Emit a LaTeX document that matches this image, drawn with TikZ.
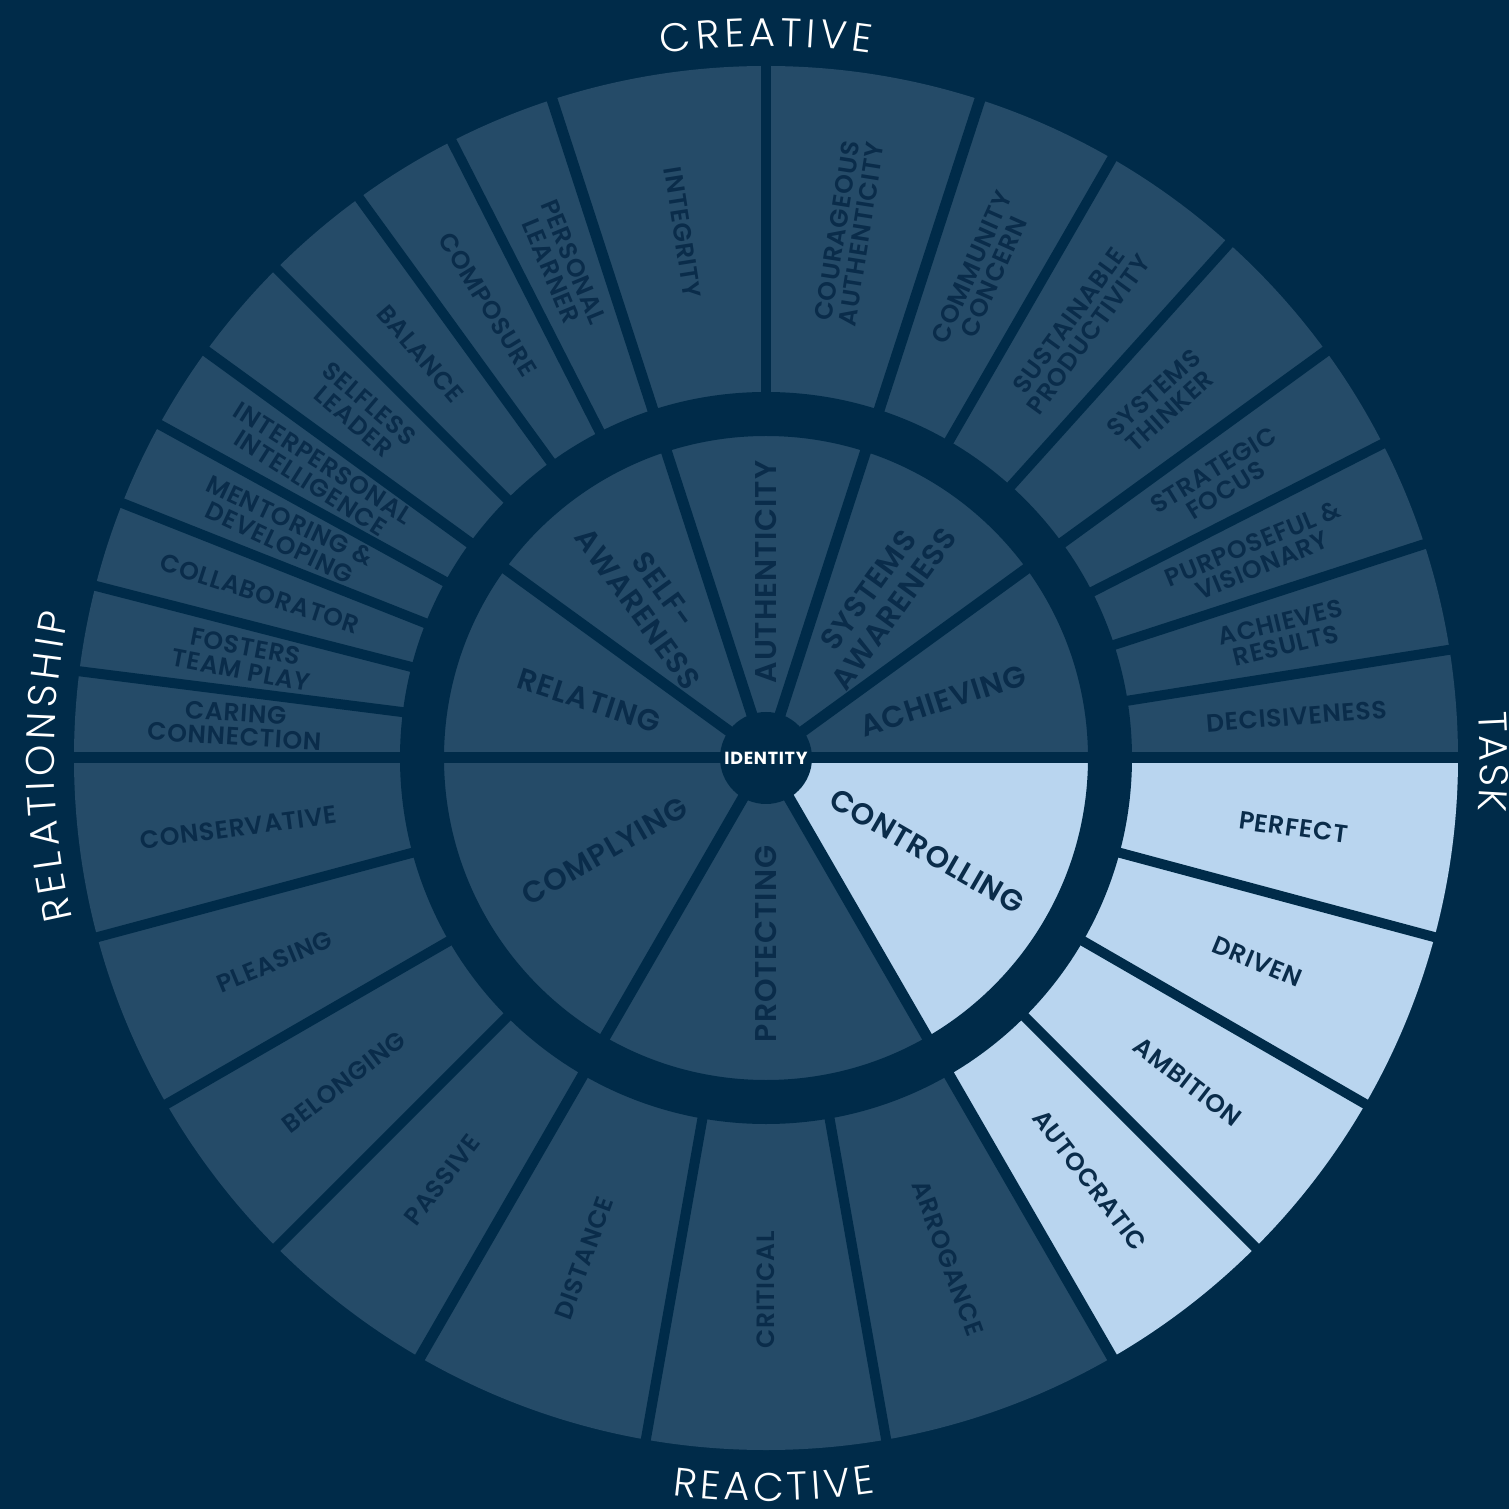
\documentclass[tikz,border=0pt]{standalone}
\usepackage{fontspec}
\setmainfont{Poppins}
\newfontfamily\segfont{Poppins SemiBold}[LetterSpace=3]
\newfontfamily\outfont{Poppins Light}
\newfontfamily\idfont{Poppins Bold}[LetterSpace=4]
\usetikzlibrary{decorations.text}
\definecolor{bgc}{HTML}{002B49}
\definecolor{segc}{HTML}{254B68}
\definecolor{lightc}{HTML}{B9D5EF}
\definecolor{txtc}{HTML}{0A2C4A}
\tikzset{
  outerlbl/.style={text=txtc, font=\segfont\fontsize{25}{24}\selectfont, align=center, inner sep=0pt, anchor=center},
  innerlbl/.style={text=txtc, font=\segfont\fontsize{30}{32}\selectfont, align=center, inner sep=0pt, anchor=center},
  sep/.style={draw=bgc, line width=11pt},
  axislbl/.style={decorate, decoration={text along path, text color=white, text align={fit to path},
    text={|\outfont\fontsize{40}{42}\selectfont|#1}}},
}
\newcommand\seglabel[5]{% style, angle, radius, name, text
  \pgfmathsetmacro\segrot{(#2>90 && #2<=270) ? #2-180 : ((#2>270) ? #2-360 : #2)}
  \node[#1, rotate=\segrot] (#4) at (#2:#3) {#5};
}
\begin{document}
\begin{tikzpicture}[x=1pt,y=1pt]
\useasboundingbox (-766,-751) rectangle (743,758);
\fill[bgc] (-766,-751) rectangle (743,758);
% disk
\fill[segc] (0,0) circle[radius=692];
\fill[lightc] (0,0) -- (300:692) arc[start angle=300, end angle=360, radius=692] -- cycle;
% ring gap
\draw[bgc, line width=44pt] (0,0) circle[radius=344];
% spokes through both rings
\foreach \a in {36,72,108,144,240,300} \draw[sep] (0,0) -- (\a:700);
\draw[sep] (-700,0) -- (700,0);
% outer separators only
\foreach \a in {9,18,27,48,60,90,117,126,135,151.2,158.4,165.6,172.8,195,210,225,260,280,315,330,345}
  \draw[sep, line width=10pt] (\a:350) -- (\a:700);
% centre
\fill[bgc] (0,0) circle[radius=46];
\node[text=white, font=\idfont\fontsize{17.5}{18}\selectfont, inner sep=0pt] (identity) at (0,0) {IDENTITY};
% inner labels
\seglabel{innerlbl}{18}{186}{achieving}{ACHIEVING}
\seglabel{innerlbl}{54}{196}{sysaw}{SYSTEMS\\AWARENESS}
\seglabel{innerlbl}{90}{186}{authenticity}{AUTHENTICITY}
\seglabel{innerlbl}{126}{196}{selfaw}{SELF-\\AWARENESS}
\seglabel{innerlbl}{162}{186}{relating}{RELATING}
\seglabel{innerlbl}{210}{186}{complying}{COMPLYING}
\seglabel{innerlbl}{270}{186}{protecting}{PROTECTING}
\seglabel{innerlbl}{330}{186}{controlling}{CONTROLLING}
% outer labels
\seglabel{outerlbl}{4.5}{532}{decisiveness}{DECISIVENESS}
\seglabel{outerlbl}{13.5}{532}{achieves}{ACHIEVES\\RESULTS}
\seglabel{outerlbl}{22.5}{532}{purposeful}{PURPOSEFUL \&\\VISIONARY}
\seglabel{outerlbl}{31.5}{532}{strategic}{STRATEGIC\\FOCUS}
\seglabel{outerlbl}{42}{532}{systhinker}{SYSTEMS\\THINKER}
\seglabel{outerlbl}{54}{532}{sustainable}{SUSTAINABLE\\PRODUCTIVITY}
\seglabel{outerlbl}{66}{532}{community}{COMMUNITY\\CONCERN}
\seglabel{outerlbl}{81}{532}{courageous}{COURAGEOUS\\AUTHENTICITY}
\seglabel{outerlbl}{99}{532}{integrity}{INTEGRITY}
\seglabel{outerlbl}{112.5}{532}{personal}{PERSONAL\\LEARNER}
\seglabel{outerlbl}{121.5}{532}{composure}{COMPOSURE}
\seglabel{outerlbl}{130.5}{532}{balance}{BALANCE}
\seglabel{outerlbl}{139.5}{532}{selfless}{SELFLESS\\LEADER}
\seglabel{outerlbl}{147.6}{532}{interpersonal}{INTERPERSONAL\\INTELLIGENCE}
\seglabel{outerlbl}{154.8}{532}{mentoring}{MENTORING \&\\DEVELOPING}
\seglabel{outerlbl}{162}{532}{collaborator}{COLLABORATOR}
\seglabel{outerlbl}{169.2}{532}{fosters}{FOSTERS\\TEAM PLAY}
\seglabel{outerlbl}{176.4}{532}{caring}{CARING\\CONNECTION}
\seglabel{outerlbl}{187.5}{532}{conservative}{CONSERVATIVE}
\seglabel{outerlbl}{202.5}{532}{pleasing}{PLEASING}
\seglabel{outerlbl}{217.5}{532}{belonging}{BELONGING}
\seglabel{outerlbl}{232.5}{532}{passive}{PASSIVE}
\seglabel{outerlbl}{250}{532}{distance}{DISTANCE}
\seglabel{outerlbl}{270}{532}{critical}{CRITICAL}
\seglabel{outerlbl}{290}{532}{arrogance}{ARROGANCE}
\seglabel{outerlbl}{307.5}{532}{autocratic}{AUTOCRATIC}
\seglabel{outerlbl}{322.5}{532}{ambition}{AMBITION}
\seglabel{outerlbl}{337.5}{532}{driven}{DRIVEN}
\seglabel{outerlbl}{352.5}{532}{perfect}{PERFECT}
% curved axis labels (spread to the reference widths)
\path[axislbl=CREATIVE] (98.4:712) arc[start angle=98.4, end angle=81.6, radius=712];
\path[axislbl=REACTIVE] (262.75:743) arc[start angle=262.75, end angle=278.45, radius=743];
\path[axislbl=RELATIONSHIP] (193.05:712) arc[start angle=193.05, end angle=168.35, radius=712];
\path[axislbl=TASK] (3.65:714) arc[start angle=3.65, end angle=-4.25, radius=714];
\end{tikzpicture}
\end{document}
